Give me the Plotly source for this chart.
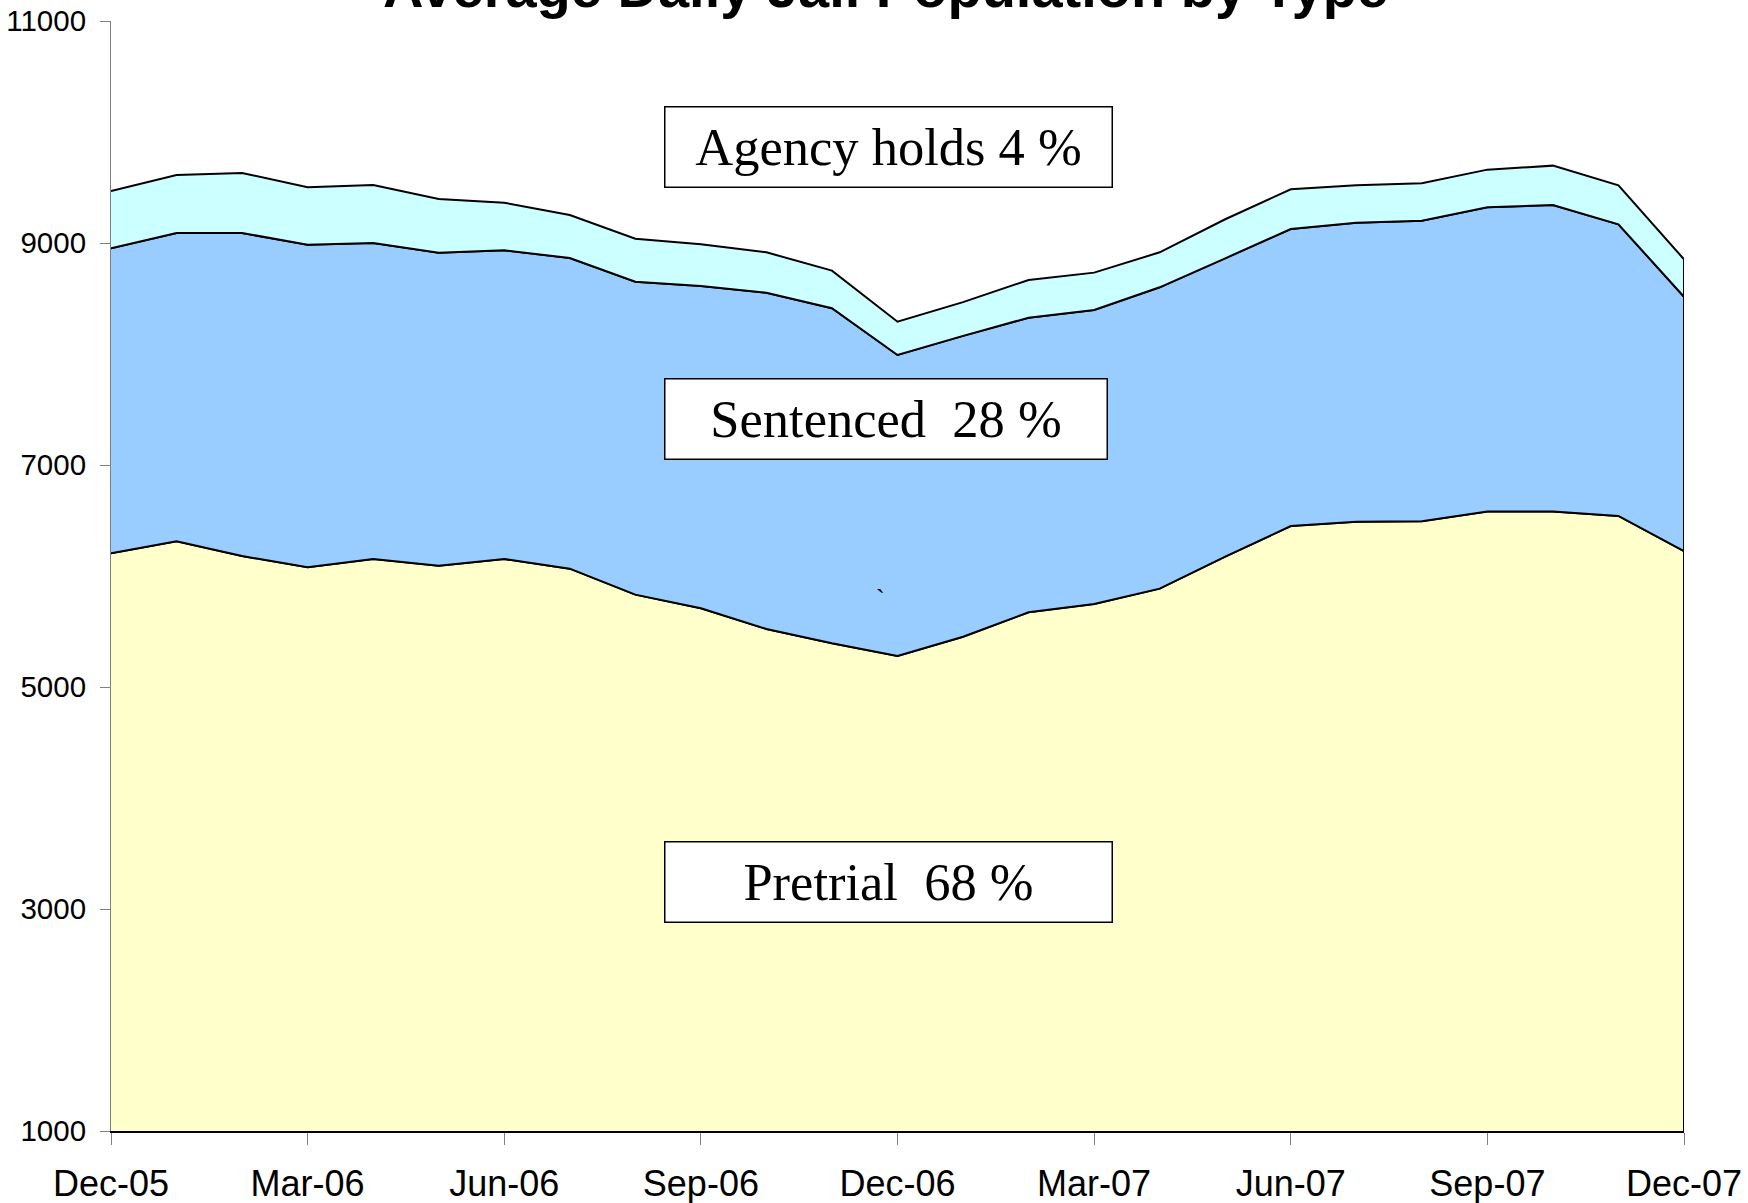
import numpy as np
import plotly.graph_objects as go

# ---- data ----
months = ["Dec-05", "Jan-06", "Feb-06", "Mar-06", "Apr-06", "May-06", "Jun-06",
          "Jul-06", "Aug-06", "Sep-06", "Oct-06", "Nov-06", "Dec-06", "Jan-07",
          "Feb-07", "Mar-07", "Apr-07", "May-07", "Jun-07", "Jul-07", "Aug-07",
          "Sep-07", "Oct-07", "Nov-07", "Dec-07"]

pretrial = [6205, 6313, 6180, 6078, 6153, 6093, 6153, 6066, 5832, 5709, 5523, 5394,
            5279, 5453, 5673, 5748, 5886, 6174, 6450, 6489, 6493, 6580, 6580, 6541, 6225]
sentenced = [2747, 2777, 2910, 2907, 2847, 2820, 2781, 2799, 2819, 2904, 3029, 3018,
             2712, 2710, 2654, 2649, 2715, 2688, 2676, 2694, 2708, 2742, 2762, 2627, 2291]
agency = [516, 523, 541, 517, 522, 483, 429, 387, 388, 375, 364, 339,
          300, 304, 340, 336, 315, 352, 358, 337, 337, 339, 355, 352, 337]

tick_labels = ["Dec-05", "Mar-06", "Jun-06", "Sep-06", "Dec-06",
               "Mar-07", "Jun-07", "Sep-07", "Dec-07"]
y_ticks = [1000, 3000, 5000, 7000, 9000, 11000]

series_names = ["Pretrial", "Sentenced", "Agency holds"]
series_colors = ["#FFFFCC", "#99CCFF", "#CCFFFF"]
box_labels = ["Pretrial\u00a0\u00a068 %", "Sentenced\u00a0\u00a028 %", "Agency holds 4 %"]

# ---- build stacked polygons ----
layers = np.array([pretrial, sentenced, agency], dtype=float)
tops = np.cumsum(layers, axis=0)
bottoms = np.vstack([np.zeros(len(months)), tops[:-1]])

fig = go.Figure()
for name, color, top, bot in zip(series_names, series_colors, tops, bottoms):
    fig.add_trace(go.Scatter(
        x=months + months[::-1],
        y=list(top) + list(bot[::-1]),
        mode="lines",
        fill="toself",
        fillcolor=color,
        line=dict(color="black", width=2),
        name=name,
        hoverinfo="skip",
        showlegend=False,
    ))

# ---- layout geometry ----
W, H = 1748, 1203
ML, MR, MT, MB = 111, 64, 21, 72
PW, PH = W - ML - MR, H - MT - MB


def px(x):
    return (x - ML) / PW


def py(y):
    return (H - MB - y) / PH


annotations = [
    dict(text="<b>Average Daily Jail Population by Type</b>",
         xref="paper", yref="paper", x=px(885), y=py(21),
         xanchor="center", yanchor="bottom", showarrow=False,
         font=dict(family="Liberation Sans, Arial", size=56, color="black")),
]

box_centers = [(888, 882), (886, 419), (888, 147)]
box_widths = [446, 441, 446]
for label, (cx, cy), bw in zip(box_labels, box_centers, box_widths):
    annotations.append(dict(
        text=label, xref="paper", yref="paper", x=px(cx), y=py(cy),
        xanchor="center", yanchor="middle", showarrow=False,
        font=dict(family="Liberation Serif, Times New Roman", size=52.5, color="black"),
        bgcolor="white", bordercolor="black", borderwidth=1.5, borderpad=0,
        width=bw, height=79, align="center", valign="middle",
    ))

annotations.append(dict(
    text="`", xref="paper", yref="paper", x=px(880), y=py(598),
    xanchor="center", yanchor="middle", showarrow=False,
    font=dict(family="Liberation Serif", size=26, color="black")))

fig.update_layout(
    width=W, height=H,
    margin=dict(l=ML, r=MR, t=MT, b=MB, pad=0, autoexpand=False),
    paper_bgcolor="white", plot_bgcolor="white",
    showlegend=False,
    annotations=annotations,
    xaxis=dict(
        type="category", range=[0, len(months) - 1], autorange=False,
        automargin=False,
        tickmode="array", tickvals=tick_labels, ticktext=tick_labels,
        showgrid=False, zeroline=False,
        showline=True, linecolor="black", linewidth=2,
        ticks="outside", ticklen=12, tickwidth=1, tickcolor="#808080",
        ticklabelstandoff=8,
        tickfont=dict(family="Liberation Sans, Arial", size=36, color="black"),
    ),
    yaxis=dict(
        range=[1000, 11000], autorange=False,
        automargin=False, layer="below traces",
        tickmode="array", tickvals=y_ticks, ticktext=[str(v) for v in y_ticks],
        showgrid=False, zeroline=False,
        showline=True, linecolor="#808080", linewidth=1,
        ticks="outside", ticklen=10, tickwidth=1, tickcolor="#808080",
        ticklabelstandoff=8,
        tickfont=dict(family="Liberation Sans, Arial", size=29.5, color="black"),
    ),
)

fig.write_html("out.html",
               config={"displayModeBar": False},
               post_script="document.body.style.margin='0';document.body.style.padding='0';")
